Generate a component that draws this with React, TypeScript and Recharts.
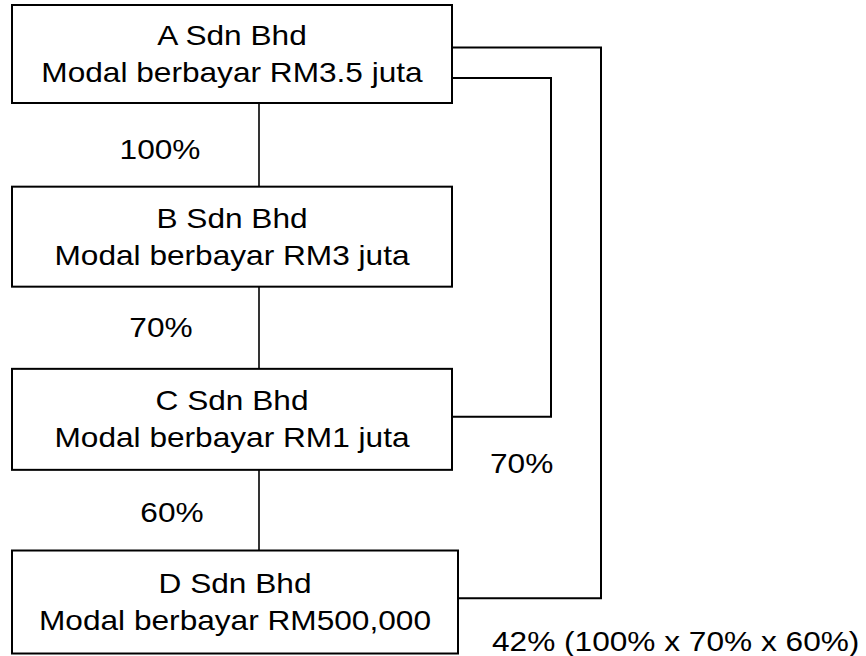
import React from "react";
import { ComposedChart, Line, Scatter, XAxis, YAxis } from "recharts";

// company chain, top to bottom
const companies = ["A Sdn Bhd", "B Sdn Bhd", "C Sdn Bhd", "D Sdn Bhd"];
const paidUpCapital = [
  "Modal berbayar RM3.5 juta",
  "Modal berbayar RM3 juta",
  "Modal berbayar RM1 juta",
  "Modal berbayar RM500,000",
];
// direct stake of each company in the next one
const directHoldings = ["100%", "70%", "60%"];
// indirect stakes of A
const indirectFrom = [0, 0];
const indirectTo = [2, 3];
const indirectLabels = ["70%", "42% (100% x 70% x 60%)"];

// layout
const W = 866;
const H = 656;
const LEVEL_TOP = 54;
const LEVEL_GAP = 182.67;
const BOX_LEFT = 12;
const boxRight = [452, 452, 452, 458];
const boxHeight = [98, 100, 101, 103];
const TRUNK_X = 259;
const railX = [551, 601];
const exitDy = [24, -6.5];
const entryDy = [-2.6, -3.7];
const linkLabelX = [490, 492];
const linkLabelDy = [54, 48.7];
const stakeX = [160, 161, 172];
const stakeDy = [13.5, 8.5, 11];

const FONT = '"Liberation Sans", Arial, sans-serif';
const FONT_SIZE = 28;
const STRETCH = 1.13;

const dl = (px: number) => px / LEVEL_GAP;

const nodes = companies.map((name, i) => ({
  x: (BOX_LEFT + boxRight[i]) / 2,
  y: i,
  level: i,
  name,
  capital: paidUpCapital[i],
}));

const trunks = directHoldings.map((_, i) => [
  { x: TRUNK_X, y: i + dl(boxHeight[i] / 2) },
  { x: TRUNK_X, y: i + 1 - dl(boxHeight[i + 1] / 2) },
]);

const stakes = directHoldings.map((label, i) => ({
  x: stakeX[i],
  y: i + 0.5 + dl(stakeDy[i]),
  label,
}));

const elbows = indirectLabels.map((_, k) => {
  const from = indirectFrom[k];
  const to = indirectTo[k];
  const y0 = from + dl(exitDy[k]);
  const y1 = to + dl(entryDy[k]);
  return [
    { x: boxRight[from], y: y0 },
    { x: railX[k], y: y0 },
    { x: railX[k], y: y1 },
    { x: boxRight[to], y: y1 },
  ];
});

const linkLabels = indirectLabels.map((label, k) => ({
  x: linkLabelX[k],
  y: indirectTo[k] + dl(linkLabelDy[k]),
  label,
}));

function Label({ x, y, text, anchor }: { x: number; y: number; text: string; anchor: "middle" | "start" }) {
  return (
    <text
      transform={`translate(${x},${y}) scale(${STRETCH},1)`}
      textAnchor={anchor}
      fontFamily={FONT}
      fontSize={FONT_SIZE}
      fill="#000"
    >
      {text}
    </text>
  );
}

const NodeShape = (props: any) => {
  const { cx, cy, payload } = props;
  const i = payload.level;
  const w = boxRight[i] - BOX_LEFT;
  const h = boxHeight[i];
  return (
    <g>
      <rect x={cx - w / 2} y={cy - h / 2} width={w} height={h} fill="#fff" stroke="#000" strokeWidth={2} />
      <Label x={cx} y={cy - 9} text={payload.name} anchor="middle" />
      <Label x={cx} y={cy + 28} text={payload.capital} anchor="middle" />
    </g>
  );
};

const MiddleText = (props: any) => <Label x={props.cx} y={props.cy} text={props.payload.label} anchor="middle" />;
const StartText = (props: any) => <Label x={props.cx} y={props.cy} text={props.payload.label} anchor="start" />;

export default function App() {
  return (
    <div style={{ position: "absolute", left: 0, top: 0, width: W, height: H, background: "#fff" }}>
      <ComposedChart width={W} height={H} margin={{ top: 0, right: 0, bottom: 0, left: 0 }}>
        <XAxis type="number" dataKey="x" domain={[0, W]} hide />
        <YAxis
          type="number"
          dataKey="y"
          domain={[-LEVEL_TOP / LEVEL_GAP, (H - LEVEL_TOP) / LEVEL_GAP]}
          reversed
          hide
        />
        {trunks.map((d, i) => (
          <Line
            key={`trunk-${i}`}
            data={d}
            dataKey="y"
            type="linear"
            stroke="#000"
            strokeWidth={1.6}
            dot={false}
            activeDot={false}
            isAnimationActive={false}
          />
        ))}
        {elbows.map((d, k) => (
          <Line
            key={`elbow-${k}`}
            data={d}
            dataKey="y"
            type="linear"
            stroke="#000"
            strokeWidth={2}
            strokeLinejoin="miter"
            dot={false}
            activeDot={false}
            isAnimationActive={false}
          />
        ))}
        <Scatter data={nodes} shape={NodeShape} isAnimationActive={false} />
        <Scatter data={stakes} shape={MiddleText} isAnimationActive={false} />
        <Scatter data={linkLabels} shape={StartText} isAnimationActive={false} />
      </ComposedChart>
    </div>
  );
}
